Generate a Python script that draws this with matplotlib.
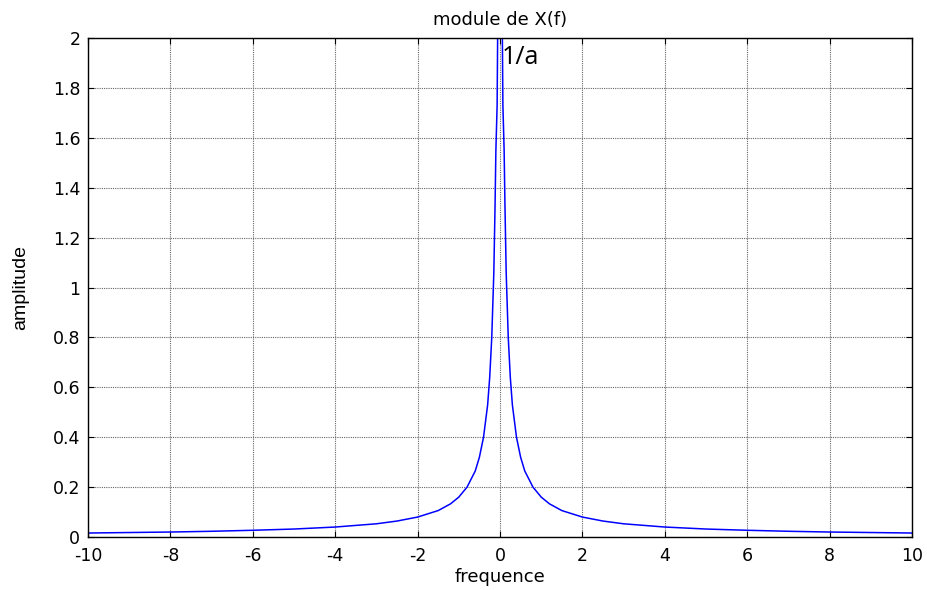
import matplotlib
matplotlib.use('Agg')
import matplotlib.pyplot as plt

# |X(f)| (symmetrical around f = 0, peak 1/a is off the top)
freq_pos = [0.0, 0.03, 0.07, 0.1, 0.12, 0.15, 0.2, 0.25, 0.3, 0.4, 0.5, 0.6, 0.8,
            1.0, 1.2, 1.5, 2.0, 2.5, 3.0, 4.0, 5.0, 6.0, 7.0, 8.0, 9.0, 10.0]
amp_pos = [10.0, 2.6, 1.73, 1.55, 1.33, 1.06, 0.80, 0.64, 0.53, 0.40, 0.32, 0.265, 0.20,
           0.16, 0.133, 0.106, 0.080, 0.064, 0.053, 0.040, 0.032, 0.027, 0.023, 0.020, 0.018, 0.016]

freq = [-f for f in freq_pos[:0:-1]] + freq_pos
amp = amp_pos[:0:-1] + amp_pos

xticks = [-10, -8, -6, -4, -2, 0, 2, 4, 6, 8, 10]
yticks = [0, 0.2, 0.4, 0.6, 0.8, 1, 1.2, 1.4, 1.6, 1.8, 2]
ytick_labels = ['0', '0.2', '0.4', '0.6', '0.8', '1', '1.2', '1.4', '1.6', '1.8', '2']

plt.rcParams['font.family'] = ['DejaVu Sans']
plt.rcParams['axes.unicode_minus'] = False

fig = plt.figure(figsize=(9.28, 5.9), dpi=100)
ax = fig.add_axes([0.0948, 0.0898, 0.888, 0.8458])

ax.plot(freq, amp, color='#0000ff', lw=1.1)
ax.set_xlim(-10, 10)
ax.set_ylim(0, 2)
ax.set_xticks(xticks)
ax.set_yticks(yticks)
ax.set_yticklabels(ytick_labels)
ax.tick_params(direction='in', top=True, right=True, labelsize=12.5, length=4)
ax.tick_params(axis='x', pad=7)
ax.tick_params(axis='y', pad=5.5)
ax.grid(True, color='#666666', linestyle=(0, (1, 1)), lw=0.8)
for s in ax.spines.values():
    s.set_linewidth(1.0)

ax.set_title('module de X(f)', fontsize=13, pad=9)
ax.set_xlabel('frequence', fontsize=13, labelpad=2)
ax.set_ylabel('amplitude', fontsize=14, family=['Liberation Sans', 'DejaVu Sans'], labelpad=17)

ax.text(0.04, 1.92, '1/a', fontsize=18, family=['Open Sans', 'DejaVu Sans'],
        va='center', ha='left')

fig.savefig('out.png', dpi=100)
